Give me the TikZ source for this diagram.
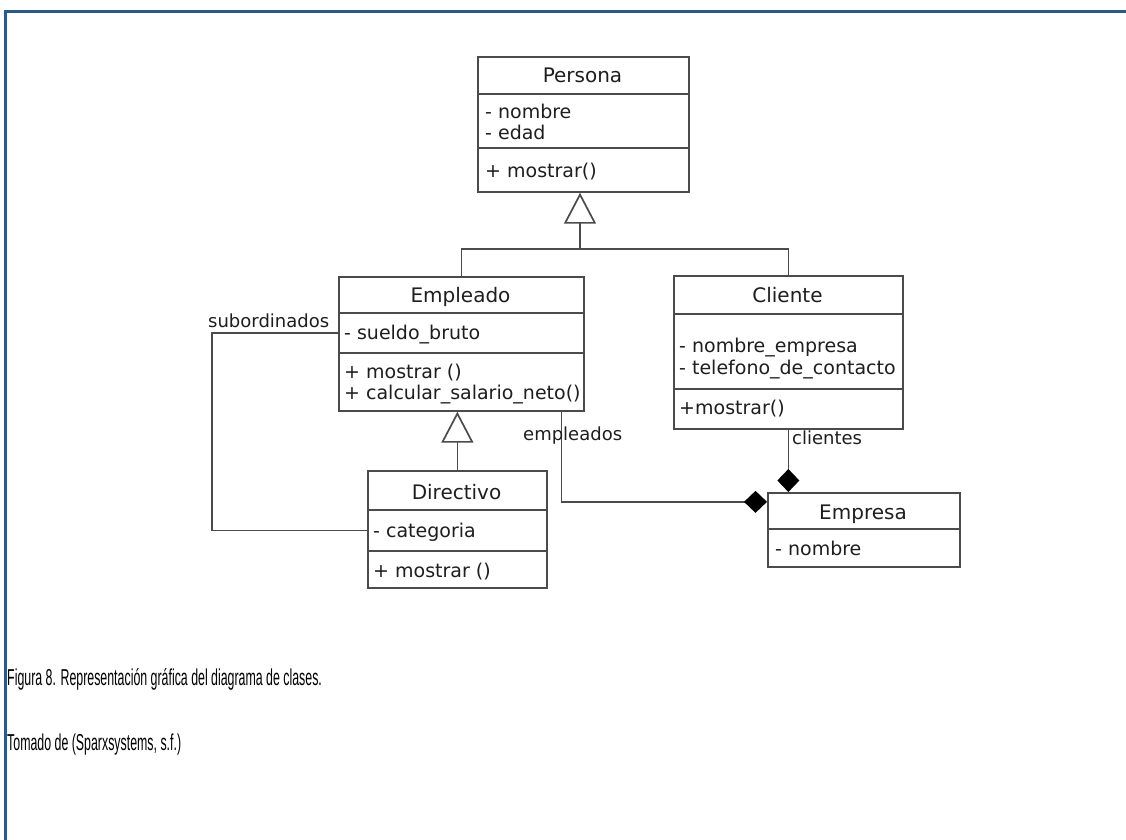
\documentclass[tikz,border=0pt]{standalone}
\usepackage{fontspec}
\usepackage{graphicx}
\setmainfont{DejaVu Sans}
\newfontfamily\capfont{Liberation Sans}
\usetikzlibrary{arrows.meta}
\definecolor{framec}{RGB}{46,89,135}
\definecolor{linec}{RGB}{75,75,75}
\definecolor{txtc}{RGB}{30,30,30}
\newcommand{\narrowcap}[1]{\scalebox{0.538}[1]{#1}}
\tikzset{
  cls/.style={draw=linec, line width=1.7pt, rectangle, inner sep=0pt, anchor=north west},
  ttl/.style={font=\fontsize{20}{24}\selectfont, text=txtc, anchor=base, inner sep=0pt},
  mem/.style={font=\fontsize{19}{23}\selectfont, text=txtc, anchor=base west, inner sep=0pt},
  rolelbl/.style={font=\fontsize{18}{22}\selectfont, text=txtc, anchor=base west, inner sep=0pt},
  capt/.style={font=\capfont\fontsize{23}{27}\selectfont, text=black, anchor=base west, inner sep=0pt},
  conn/.style={draw=linec, line width=1.7pt},
  inherit/.style={conn, -{Triangle[open, length=31pt, width=32pt]}},
  compose/.style={conn, -{Diamond[length=23pt, width=22pt, color=black]}},
  frameline/.style={draw=framec, line width=3pt}
}
\begin{document}
\begin{tikzpicture}[x=1pt, y=-1pt]
\useasboundingbox (0,0) rectangle (1126,839);
\fill[white] (0,0) rectangle (1126,839);
\draw[frameline] (1130,11) -- (5,11) -- (5,845);

% Persona
\node[cls, minimum width=211pt, minimum height=37pt] (perT) at (477,56) {};
\node[cls, minimum width=211pt, minimum height=54pt] (perA) at (477,93) {};
\node[cls, minimum width=211pt, minimum height=44pt] (perO) at (477,147) {};
\node[ttl] (perN) at (582.5,82) {Persona};
\node[mem] (perA1) at (485,118) {- nombre};
\node[mem] (perA2) at (485,139) {- edad};
\node[mem] (perO1) at (485,177) {+ mostrar()};

% Empleado
\node[cls, minimum width=245pt, minimum height=36pt] (empT) at (338,276) {};
\node[cls, minimum width=245pt, minimum height=40pt] (empA) at (338,312) {};
\node[cls, minimum width=245pt, minimum height=58pt] (empO) at (338,352) {};
\node[ttl] (empN) at (460.5,302) {Empleado};
\node[mem] (empA1) at (344,339) {- sueldo\_bruto};
\node[mem] (empO1) at (344,378) {+ mostrar ()};
\node[mem] (empO2) at (344,399) {+ calcular\_salario\_neto()};

% Cliente
\node[cls, minimum width=229pt, minimum height=38pt] (cliT) at (673,275) {};
\node[cls, minimum width=229pt, minimum height=75pt] (cliA) at (673,313) {};
\node[cls, minimum width=229pt, minimum height=40pt] (cliO) at (673,388) {};
\node[ttl] (cliN) at (787.5,302) {Cliente};
\node[mem] (cliA1) at (679,352) {- nombre\_empresa};
\node[mem] (cliA2) at (679,374) {- telefono\_de\_contacto};
\node[mem] (cliO1) at (679,414) {+mostrar()};

% Directivo
\node[cls, minimum width=179pt, minimum height=39pt] (dirT) at (367,470) {};
\node[cls, minimum width=179pt, minimum height=41pt] (dirA) at (367,509) {};
\node[cls, minimum width=179pt, minimum height=37pt] (dirO) at (367,550) {};
\node[ttl] (dirN) at (456.5,499) {Directivo};
\node[mem] (dirA1) at (373,537) {- categoria};
\node[mem] (dirO1) at (373,577) {+ mostrar ()};

% Empresa
\node[cls, minimum width=192pt, minimum height=36pt] (emprT) at (767,492) {};
\node[cls, minimum width=192pt, minimum height=38pt] (emprA) at (767,528) {};
\node[ttl] (emprN) at (863,519) {Empresa};
\node[mem] (emprA1) at (775,555) {- nombre};

% generalisation: Empleado and Cliente under Persona
\coordinate (jn) at (580,249);
\draw[conn] (empT.north) |- (jn) -| (cliT.north);
\draw[inherit] (jn) -- (jn |- perO.south);
\draw[inherit] (dirT.north) -- (dirT.north |- empO.south);

% self association of Empleado through Directivo
\draw[conn] (empA.west) -- ++(-126,0) |- (dirA.west);
\node[rolelbl] (lsub) at (208,327) {subordinados};

% compositions into Empresa
\draw[compose] ([xshift=100pt]empO.south) |- ([yshift=9pt]emprT.west);
\node[rolelbl] (lemp) at (523,440) {empleados};
\draw[compose] (cliO.south) -- (cliO.south |- emprT.north);
\node[rolelbl] (lcli) at (792,444) {clientes};

% caption
\node[capt] (cap1) at (7,685) {\narrowcap{Figura 8. Representación gráfica del diagrama de clases.}};
\node[capt] (cap2) at (7,750) {\narrowcap{Tomado de (Sparxsystems, s.f.)}};
\end{tikzpicture}
\end{document}
